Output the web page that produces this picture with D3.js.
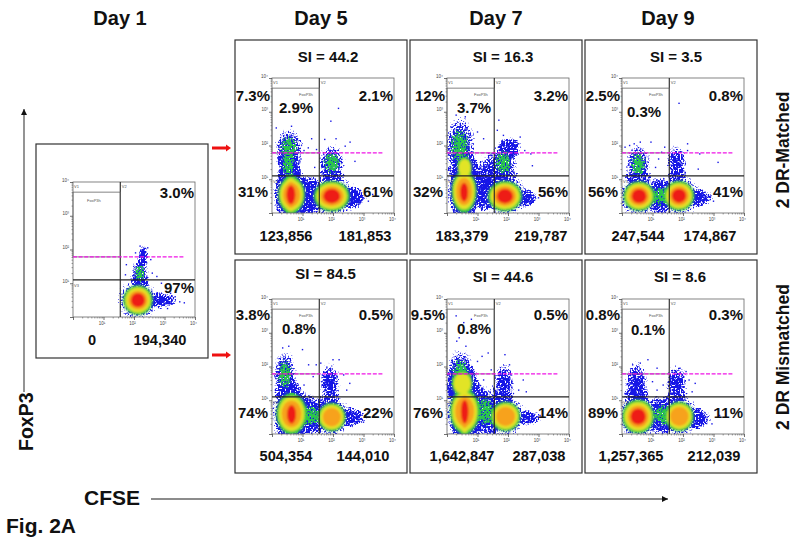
<!DOCTYPE html>
<html>
<head>
<meta charset="utf-8">
<style>
  html, body { margin: 0; padding: 0; background: #fff; }
  svg { display: block; }
  text { font-family: "Liberation Sans", Arial, sans-serif; fill: #111; }
  .b { font-weight: bold; }
</style>
<script src="https://cdn.jsdelivr.net/npm/d3@7"></script>
</head>
<body>
<div id="canvas"></div>
<script>
const width = 800 // pixels
const height = 541 // pixels

// all flow values are in decades: 0 means 10^0, 4 means 10^4
const decades = [0, 1, 2, 3, 4]
const minorTicks = [2, 3, 4, 5, 6, 7, 8, 9]
const gateX = 1.55 // CFSE divided / undivided
const gateY = 1.1 // FoxP3 low / high
const dashY = 1.78 // magenta FoxP3 line
const dashEnd = 3.67
const boxTop = 3.7 // top of the FoxP3h box

const dayLabels = ['Day 1', 'Day 5', 'Day 7', 'Day 9']
const rowLabels = ['2 DR-Matched', '2 DR Mismatched']
const panelNames = ['d1', 'd5m', 'd7m', 'd9m', 'd5x', 'd7x', 'd9x']
const siLabels = [null, 'SI = 44.2', 'SI = 16.3', 'SI = 3.5', 'SI = 84.5', 'SI = 44.6', 'SI = 8.6']
const pctUpperLeft = [null, '7.3%', '12%', '2.5%', '3.8%', '9.5%', '0.8%']
const pctFoxP3h = [null, '2.9%', '3.7%', '0.3%', '0.8%', '0.8%', '0.1%']
const pctUpperRight = ['3.0%', '2.1%', '3.2%', '0.8%', '0.5%', '0.5%', '0.3%']
const pctLowerLeft = [null, '31%', '32%', '56%', '74%', '76%', '89%']
const pctLowerRight = ['97%', '61%', '56%', '41%', '22%', '14%', '11%']
const countsUndivided = ['0', '123,856', '183,379', '247,544', '504,354', '1,642,847', '1,257,365']
const countsDivided = ['194,340', '181,853', '219,787', '174,867', '144,010', '287,038', '212,039']

// density populations: [x, y, x spread, y spread, peak level]
const popsD1 = [[2.19, 1.3, .27, .42, 2], [2.3, 1.85, .17, .28, 1], [3.0, .5, .42, .22, 1], [2.13, .5, .66, .6, 5]]
const popsD5m = [[.56, 1.93, .46, .55, 2], [.53, 1.39, .33, .45, 2], [1.2, .5, .34, .5, 1], [2.67, .45, .42, .25, 1], [1.96, 1.49, .42, .52, 2], [.64, .54, .6, .72, 4], [.62, .54, .42, .8, 5], [1.96, .5, .8, .62, 5]]
const popsD7m = [[.42, 1.98, .5, .85, 2], [.58, 1.34, .32, .42, 3], [1.24, .95, .36, .72, 1], [1.85, 1.49, .44, .58, 2], [2.1, 1.98, .32, .27, 1], [2.6, .45, .38, .2, 1], [.56, .64, .56, .85, 4], [.56, .62, .38, .8, 5], [1.9, .5, .76, .62, 5]]
const popsD9m = [[.53, 1.44, .4, .58, 2], [1.79, 1.49, .32, .5, 1], [1.24, .5, .32, .46, 2], [2.6, .45, .38, .22, 1], [.56, .5, .7, .6, 5], [1.87, .51, .68, .6, 5]]
const popsD5x = [[.42, 1.76, .37, .68, 2], [1.3, .55, .42, .5, 2], [1.9, 1.5, .32, .58, 1], [2.7, .5, .38, .25, 1], [.64, .6, .68, .82, 4], [.64, .58, .42, .8, 5], [1.96, .5, .62, .58, 4]]
const popsD7x = [[.44, 1.8, .44, .68, 2], [.5, 1.5, .46, .5, 3], [1.26, .67, .42, .72, 2], [1.87, 1.5, .32, .58, 1], [2.75, .48, .32, .2, 1], [.58, .67, .66, .9, 4], [.58, .66, .36, 1, 5], [1.92, .52, .66, .6, 4]]
const popsD9x = [[.47, 1.5, .37, .62, 1], [1.3, .57, .36, .5, 2], [1.79, 1.5, .34, .52, 1], [2.56, .45, .34, .26, 1], [.53, .52, .72, .68, 5], [1.88, .52, .64, .6, 4]]
const populations = [popsD1, popsD5m, popsD7m, popsD9m, popsD5x, popsD7x, popsD9x]

// single blue events outside the dense regions
const evD1 = [[2.2, 2.1], [2.45, 2.05], [2.05, 1.9], [2.55, 1.7], [1.75, 1.55], [2.6, 1.3], [2.75, 1.2], [3.5, .45], [3.65, .42], [3.35, .6], [3.2, .7], [3.1, .25], [2.9, 1.0], [1.72, 1.25]]
const evD5m = [[2.18, 3.1], [1.93, 2.72], [.14, 2.52], [.64, 2.57], [2.56, 2.1], [2.4, 1.98], [1.3, 2.2], [1.46, 1.88], [2.72, 1.53], [1.73, 2.18], [3, .45], [3.3, .55], [3.16, .35], [1.19, 1.93], [1.05, 1.85], [1.4, 1.35], [.95, 1.6], [2.1, 2.2]]
const evD7m = [[1.7, 2.75], [1.65, 2.45], [1.85, 2.3], [.3, 2.9], [.6, 2.85], [1.2, 2.2], [1.0, 2.4], [2.55, 1.85], [2.75, 1.75], [2.8, 1.4], [1.45, 1.7], [3, .45], [3.2, .5], [1.7, 1.95], [2.4, 2.25], [2.35, 2.05], [.85, 1.45], [1.5, 1.35]]
const evD9m = [[1.87, 3.25], [.4, 2.05], [.6, 2.1], [.95, 2.1], [1.4, 1.95], [2.15, 2.05], [3.15, 1.5], [2.55, 1.75], [1.2, 1.6], [1.1, 1.35], [2.5, 1.3], [2.15, 1.85], [1.3, 1.8], [3.0, .35], [2.9, .5], [.1, 1.95], [.25, 2.0]]
const evD5x = [[.35, 2.55], [.55, 2.6], [1, 2.5], [1.45, 2.05], [2, 2.2], [2.2, 2.2], [2.55, 1.5], [2.45, 1.3], [1.2, 2.05], [1.35, 1.7], [3.15, .65], [3.0, .35], [1.6, 2.1], [1.65, 1.75], [1.05, 1.45], [2.35, 1.75], [.1, 1.7]]
const evD7x = [[.3, 3.5], [.55, 3.3], [.8, 3.4], [.32, 2.75], [.4, 2.85], [1.15, 2.3], [1.35, 2.4], [1, 2.15], [1.9, 2.35], [1.45, 1.9], [2.1, 1.75], [2.5, 1.6], [2.6, 1.25], [3.05, .55], [1.2, 1.6], [2.05, 2.05], [.62, 2.6], [2.35, 1.3]]
const evD9x = [[.85, 2.2], [.35, 2.05], [.6, 2.1], [1.15, 1.95], [1.9, 1.95], [2.1, 1.85], [2.2, 1.6], [2.4, 1.5], [1.15, 1.3], [1.0, 1.55], [1.65, 1.7], [3.2, .55], [2.95, .3], [3.05, .7], [1.35, 1.45], [.1, 1.2], [2.3, 1.25]]
const strayEvents = [evD1, evD5m, evD7m, evD9m, evD5x, evD7x, evD9x]

// layout of each panel: plot left/top and the box round it
const plotW = 122
const plotH = 135
const plotLefts = [73, 272, 447, 622, 272, 447, 622]
const plotTops = [182, 78, 78, 78, 299, 299, 299]
const boxLefts = [36, 235, 410, 585, 235, 410, 585]
const boxRights = [208, 407, 582, 757, 407, 582, 757]
const boxTops = [144, 40, 40, 40, 260, 260, 260]
const boxBottoms = [358, 254, 254, 254, 473, 473, 473]
const siX = [0, 328, 503, 676, 325.5, 503, 680]
const siY = [0, 62, 62, 62, 279, 282, 282]
const foxPctX = [0, 24, 27, 22, 27, 27, 26]
const foxPctY = [0, 35, 35, 39, 35, 35, 36]
const countLeftX = [19, 14, 15, 16, 14, 15, 9]
const countRightX = [87, 93, 94, 88, 91, 92, 92]

const levelColors = ['#1616e6', '#2cc64c', '#e2e428', '#f7a21e', '#ee1c12']
const levelShrink = [1, .82, .62, .48, .35]
const solidGreen = '#3ccc40'
const solidGreenShrink = .74
const blueReach = 1.25

let svg = d3.select('#canvas').append('svg:svg')
  .attr('width', width)
  .attr('height', height)

let defs = svg.append('defs')

// fades a layer out to the rim so the speckle thins at the edge
let rim = defs.append('radialGradient').attr('id', 'rim')
rim.append('stop').attr('offset', '0%').attr('stop-color', '#000').attr('stop-opacity', 1)
rim.append('stop').attr('offset', '50%').attr('stop-color', '#000').attr('stop-opacity', .72)
rim.append('stop').attr('offset', '100%').attr('stop-color', '#000').attr('stop-opacity', .3)

// grainy mask, turns a soft ellipse into separate looking dots
const makeGrain = function (id, color, seed) {
  let grain = defs.append('filter').attr('id', id)
    .attr('filterUnits', 'userSpaceOnUse')
    .attr('x', 0).attr('y', 0).attr('width', width).attr('height', height)
  grain.append('feTurbulence').attr('type', 'fractalNoise').attr('baseFrequency', 0.6)
    .attr('numOctaves', 1).attr('seed', seed).attr('result', 'n')
  grain.append('feColorMatrix').attr('in', 'n').attr('type', 'matrix')
    .attr('values', '0 0 0 0 0  0 0 0 0 0  0 0 0 0 0  1.4 0 0 0 0').attr('result', 'na')
  grain.append('feComposite').attr('in', 'SourceAlpha').attr('in2', 'na')
    .attr('operator', 'arithmetic').attr('k1', 1).attr('k2', 0).attr('k3', 0).attr('k4', 0).attr('result', 'm')
  grain.append('feComponentTransfer').attr('in', 'm').attr('result', 't')
    .append('feFuncA').attr('type', 'linear').attr('slope', 8).attr('intercept', -3.2)
  grain.append('feFlood').attr('flood-color', color).attr('result', 'f')
  grain.append('feComposite').attr('in', 'f').attr('in2', 't').attr('operator', 'in')
}
makeGrain('grainBlue', levelColors[0], 4)
makeGrain('grainGreen', levelColors[1], 9)

defs.append('filter').attr('id', 'soft')
  .append('feGaussianBlur').attr('stdDeviation', 1.3)

const sup = ['\u2070', '\u00b9', '\u00b2', '\u00b3', '\u2074']

const drawPanel = function (i) {
  const left = plotLefts[i]
  const top = plotTops[i]
  const x = d3.scaleLinear().domain([0, 4]).range([left, left + plotW])
  const y = d3.scaleLinear().domain([0, 4]).range([top + plotH, top])
  const minorValues = d3.range(0, 4).flatMap(d => minorTicks.map(m => d + Math.log10(m)))
  let g = svg.append('g').attr('id', panelNames[i])

  g.append('rect')
    .attr('x', boxLefts[i])
    .attr('y', boxTops[i])
    .attr('width', boxRights[i] - boxLefts[i])
    .attr('height', boxBottoms[i] - boxTops[i])
    .attr('fill', '#fff')
    .attr('stroke', '#333')
    .attr('stroke-width', 1.2)

  defs.append('clipPath').attr('id', 'clip-' + panelNames[i])
    .append('rect').attr('x', left).attr('y', top).attr('width', plotW).attr('height', plotH)

  let marks = g.append('g').attr('clip-path', 'url(#clip-' + panelNames[i] + ')')

  const ellipses = (parent, rows, scale, fill) => parent.append('g')
    .selectAll('ellipse')
    .data(rows)
    .enter().append('ellipse')
    .attr('cx', d => x(d[0]))
    .attr('cy', d => y(d[1]))
    .attr('rx', d => (x(d[2]) - x(0)) * scale)
    .attr('ry', d => (y(0) - y(d[3])) * scale)
    .attr('fill', fill)

  let blue = marks.append('g').attr('filter', 'url(#grainBlue)')
  ellipses(blue, populations[i], blueReach, 'url(#rim)')

  marks.selectAll('rect.event')
    .data(strayEvents[i])
    .enter().append('rect')
    .attr('class', 'event')
    .attr('x', d => x(d[0]) - .7)
    .attr('y', d => y(d[1]) - .7)
    .attr('width', 1.4)
    .attr('height', 1.4)
    .attr('fill', levelColors[0])

  let green = marks.append('g').attr('filter', 'url(#grainGreen)')
  ellipses(green, populations[i].filter(d => d[4] > 1), levelShrink[1], 'url(#rim)')

  // warmer contours, from the rim to the core of each population
  let warm = marks.append('g').attr('filter', 'url(#soft)')
  ellipses(warm, populations[i].filter(d => d[4] > 2), solidGreenShrink, solidGreen)
  for (let level = 2; level < levelColors.length; level++) {
    ellipses(warm, populations[i].filter(d => d[4] > level), levelShrink[level], levelColors[level])
  }

  g.append('rect')
    .attr('x', left)
    .attr('y', top)
    .attr('width', plotW)
    .attr('height', plotH)
    .attr('fill', 'none')
    .attr('stroke', '#666')
    .attr('stroke-width', .8)

  // axes, major decades then the minor log ticks
  let xAxis = g.append('g').attr('transform', 'translate(0,' + (top + plotH) + ')')
    .call(d3.axisBottom(x).tickValues(decades).tickSize(3).tickFormat(d => '10' + sup[d]))
  let yAxis = g.append('g').attr('transform', 'translate(' + left + ',0)')
    .call(d3.axisLeft(y).tickValues(decades).tickSize(3).tickFormat(d => '10' + sup[d]))
  g.append('g').attr('transform', 'translate(0,' + (top + plotH) + ')')
    .call(d3.axisBottom(x).tickValues(minorValues).tickSize(1.5).tickFormat(''))
    .call(a => a.select('.domain').remove())
    .selectAll('line').attr('stroke', '#444').attr('stroke-width', .5)
  g.append('g').attr('transform', 'translate(' + left + ',0)')
    .call(d3.axisLeft(y).tickValues(minorValues).tickSize(1.5).tickFormat(''))
    .call(a => a.select('.domain').remove())
    .selectAll('line').attr('stroke', '#444').attr('stroke-width', .5)
  xAxis.select('.domain').remove()
  yAxis.select('.domain').remove()
  xAxis.selectAll('line').attr('stroke', '#333').attr('stroke-width', .7)
  yAxis.selectAll('line').attr('stroke', '#333').attr('stroke-width', .7)
  xAxis.selectAll('text').attr('font-size', 4.5).attr('dy', '0.5em').attr('dx', -2).style('fill', '#444')
  yAxis.selectAll('text').attr('font-size', 4.5).attr('dy', -1).attr('dx', 2).style('fill', '#444')
  xAxis.selectAll('.tick').filter(d => d === 0).select('text').remove()
  yAxis.selectAll('.tick').filter(d => d === 0).select('text').remove()

  // gates
  const gate = (x1, y1, x2, y2) => g.append('line')
    .attr('x1', x1).attr('y1', y1).attr('x2', x2).attr('y2', y2)
    .attr('stroke', '#222').attr('stroke-width', 1.1)
  gate(x(gateX), y(4), x(gateX), y(0))
  gate(x(0), y(gateY), x(4), y(gateY))
  g.append('rect')
    .attr('x', x(0))
    .attr('y', y(boxTop))
    .attr('width', x(gateX) - x(0))
    .attr('height', y(dashY) - y(boxTop))
    .attr('fill', 'none')
    .attr('stroke', '#666')
    .attr('stroke-width', .8)
  g.append('line')
    .attr('x1', x(0))
    .attr('x2', x(dashEnd))
    .attr('y1', y(dashY))
    .attr('y2', y(dashY))
    .attr('stroke', '#f014e6')
    .attr('stroke-width', 1.2)
    .attr('stroke-dasharray', '4 1.6')

  const tiny = (txt, tx, ty) => g.append('text').text(txt)
    .attr('x', tx).attr('y', ty).attr('font-size', 4).style('fill', '#555')
  tiny('V1', left + 1, top + 6)
  tiny('V2', x(gateX) + 1.5, top + 6)
  tiny('V3', left + 1, y(gateY) + 7)
  tiny('FoxP3h', i === 0 ? left + 14 : left + 27, i === 0 ? top + 20 : top + 18)

  // percentages and counts
  const label = (txt, tx, ty, anchor, size) => {
    if (txt === null) return
    g.append('text').text(txt).attr('class', 'b')
      .attr('x', tx).attr('y', ty)
      .attr('text-anchor', anchor)
      .attr('font-size', size)
  }
  const upY = i === 0 ? top + 16 : (i < 4 ? top + 23 : top + 21)
  const lowY = i === 0 ? top + 111 : top + 119
  const countY = i < 4 ? top + 163 : top + 162
  label(siLabels[i], siX[i], siY[i], 'middle', 15)
  label(pctUpperLeft[i], left - 2, upY, 'end', 15)
  label(pctFoxP3h[i], left + foxPctX[i], top + foxPctY[i], 'middle', 15)
  label(pctUpperRight[i], left + plotW - 1, upY, 'end', 15)
  label(pctLowerLeft[i], left - 4, lowY, 'end', 15)
  label(pctLowerRight[i], left + plotW - 1, lowY, 'end', 15)
  label(countsUndivided[i], left + countLeftX[i], countY, 'middle', 14.6)
  label(countsDivided[i], left + countRightX[i], countY, 'middle', 14.6)
}

panelNames.forEach((d, i) => drawPanel(i))

// headings round the panels
const dayCenters = [120, 321, 496, 668]
dayLabels.forEach((d, i) => {
  svg.append('text').text(d).attr('class', 'b')
    .attr('x', dayCenters[i]).attr('y', 25)
    .attr('text-anchor', 'middle').attr('font-size', 20)
})

const rowCenters = [150, 357]
rowLabels.forEach((d, i) => {
  svg.append('text').text(d).attr('class', 'b')
    .attr('transform', 'translate(789,' + rowCenters[i] + ') rotate(-90)')
    .attr('text-anchor', 'middle').attr('font-size', 17.5)
})

svg.append('text').text('FoxP3').attr('class', 'b')
  .attr('transform', 'translate(33,451) rotate(-90)')
  .attr('font-size', 19.5)
svg.append('text').text('CFSE').attr('class', 'b')
  .attr('x', 84).attr('y', 505).attr('font-size', 21)
svg.append('text').text('Fig. 2A').attr('class', 'b')
  .attr('x', 6).attr('y', 533).attr('font-size', 21)

// long axis arrows
const longArrow = (x1, y1, x2, y2, dir) => {
  svg.append('line').attr('x1', x1).attr('y1', y1).attr('x2', x2).attr('y2', y2)
    .attr('stroke', '#666').attr('stroke-width', 1.4)
  svg.append('path')
    .attr('d', dir === 'up' ? 'M-3,6L0,0L3,6Z' : 'M-6,-3L0,0L-6,3Z')
    .attr('transform', 'translate(' + x2 + ',' + y2 + ')')
    .attr('fill', '#111')
}
longArrow(24, 392, 24, 109, 'up')
longArrow(151, 499, 668, 499, 'right')

// red arrows from day 1 to day 5
const redArrowY = [148, 355]
redArrowY.forEach(d => {
  svg.append('line').attr('x1', 212).attr('x2', 226).attr('y1', d).attr('y2', d)
    .attr('stroke', '#ee1111').attr('stroke-width', 3)
  svg.append('path').attr('d', 'M0,-3.5L5,0L0,3.5Z')
    .attr('transform', 'translate(226,' + d + ')').attr('fill', '#ee1111')
})
</script>
</body>
</html>
